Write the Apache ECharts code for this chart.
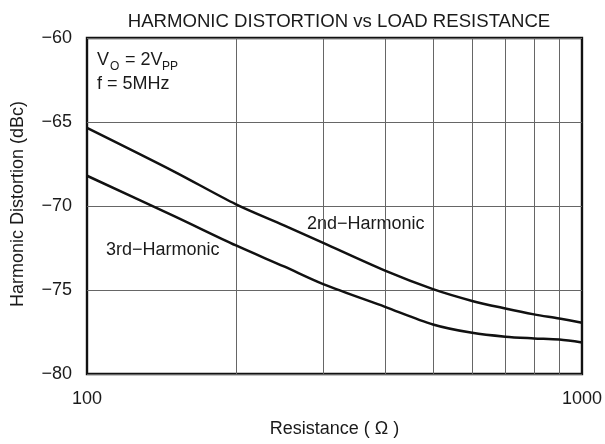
<!DOCTYPE html>
<html>
<head>
<meta charset="utf-8">
<script src="https://cdn.jsdelivr.net/npm/echarts@6/dist/echarts.min.js"></script>
<style>
  html, body { margin: 0; padding: 0; background: #fff; }
  #chart { width: 605px; height: 444px; }
</style>
</head>
<body>
<div id="chart"></div>
<script>
// Load resistance (ohms) and distortion levels (dBc)
const resistance = [100, 150, 200, 250, 300, 400, 500, 600, 700, 800, 900, 1000];
const secondHarmonic = [-65.35, -67.95, -69.9, -71.15, -72.2, -73.85, -74.95, -75.65, -76.1, -76.45, -76.7, -76.95];
const thirdHarmonic = [-68.2, -70.6, -72.35, -73.6, -74.65, -76.0, -77.05, -77.55, -77.78, -77.88, -77.95, -78.12];
const xMinorGrid = [200, 300, 400, 500, 600, 700, 800, 900];
const yTicks = { min: -80, max: -60, step: 5 };

const FONT = '"Liberation Sans", Arial, sans-serif';
const TEXT = '#1a1a1a';

const pairs = (ys) => resistance.map((r, i) => [r, ys[i]]);

const chart = echarts.init(document.getElementById('chart'));
chart.setOption({
  animation: false,
  backgroundColor: '#fff',
  textStyle: { fontFamily: FONT, color: TEXT },
  title: {
    text: 'HARMONIC DISTORTION vs LOAD RESISTANCE',
    left: 334, top: 7, textAlign: 'center',
    textStyle: { fontFamily: FONT, fontSize: 18.6, fontWeight: 'normal', color: TEXT }
  },
  grid: { left: 87, right: 21, top: 38, bottom: 70, show: true, borderColor: '#111', borderWidth: 2.4 },
  xAxis: {
    type: 'log', logBase: 10, min: 100, max: 1000,
    name: 'Resistance ( Ω )', nameLocation: 'middle', nameGap: 46,
    nameTextStyle: { fontFamily: FONT, fontSize: 18, color: TEXT },
    axisLine: { show: false },
    axisTick: { show: false },
    splitLine: { show: false },
    axisLabel: { fontFamily: FONT, fontSize: 18, color: TEXT, margin: 16, formatter: (v) => String(v) }
  },
  yAxis: {
    type: 'value', min: yTicks.min, max: yTicks.max, interval: yTicks.step,
    axisLine: { show: false },
    axisTick: { show: false },
    splitLine: { show: true, lineStyle: { color: '#666', width: 1 } },
    axisLabel: {
      fontFamily: FONT, fontSize: 18, color: TEXT, margin: 15,
      formatter: (v) => String(v).replace('-', '\u2212')
    }
  },
  graphic: [
    {
      type: 'text', x: 18, y: 204, rotation: Math.PI / 2,
      style: { text: 'Harmonic Distortion (dBc)', font: '18px ' + FONT, fill: TEXT,
               align: 'center', verticalAlign: 'middle' }
    },
    {
      type: 'text', x: 97, y: 60,
      style: { text: 'V', font: '18px ' + FONT, fill: TEXT, verticalAlign: 'middle' }
    },
    {
      type: 'text', x: 110, y: 67,
      style: { text: 'O', font: '12px ' + FONT, fill: TEXT, verticalAlign: 'middle' }
    },
    {
      type: 'text', x: 125, y: 60,
      style: { text: '= 2V', font: '18px ' + FONT, fill: TEXT, verticalAlign: 'middle' }
    },
    {
      type: 'text', x: 162, y: 67,
      style: { text: 'PP', font: '12px ' + FONT, fill: TEXT, verticalAlign: 'middle' }
    },
    {
      type: 'text', x: 97, y: 84,
      style: { text: 'f = 5MHz', font: '18px ' + FONT, fill: TEXT, verticalAlign: 'middle' }
    },
    {
      type: 'text', x: 307, y: 224,
      style: { text: '2nd\u2212Harmonic', font: '18px ' + FONT, fill: TEXT, verticalAlign: 'middle' }
    },
    {
      type: 'text', x: 106, y: 250,
      style: { text: '3rd\u2212Harmonic', font: '18px ' + FONT, fill: TEXT, verticalAlign: 'middle' }
    }
  ],
  series: [
    {
      name: '2nd-Harmonic', type: 'line', smooth: 0.3, showSymbol: false,
      data: pairs(secondHarmonic),
      lineStyle: { color: '#111', width: 2.5 },
      z: 5,
      markLine: {
        silent: true, symbol: 'none', label: { show: false },
        lineStyle: { color: '#666', width: 1, type: 'solid' },
        data: xMinorGrid.map((v) => ({ xAxis: v }))
      }
    },
    {
      name: '3rd-Harmonic', type: 'line', smooth: 0.3, showSymbol: false,
      data: pairs(thirdHarmonic),
      lineStyle: { color: '#111', width: 2.5 },
      z: 5
    }
  ]
});
</script>
</body>
</html>
